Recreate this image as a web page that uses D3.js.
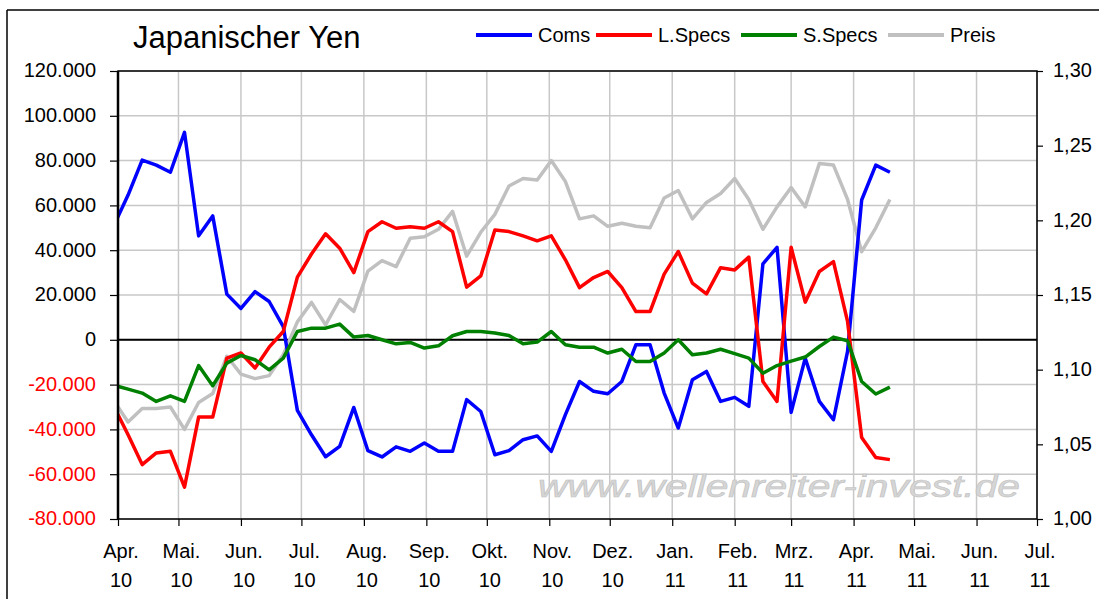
<!DOCTYPE html>
<html>
<head>
<meta charset="utf-8">
<script src="https://cdn.jsdelivr.net/npm/d3@7"></script>
<style>
  body { margin: 0; background: #fff; }
  svg { display: block; font-family: "Liberation Sans", Arial, sans-serif; }
</style>
</head>
<body>
<svg width="1099" height="599"></svg>
<script>
// weekly COT figures, first report week
const firstWeek = new Date(2010, 2, 30);
const coms = [51200, 64600, 80200, 78000, 74800, 92600, 46400, 55300, 20400, 14000,
  21500, 17100, 5900, -31500, -42400, -52200, -47600, -30200, -49500, -52300,
  -47800, -49800, -46100, -49800, -49800, -26700, -32000, -51300, -49500, -44600,
  -42900, -49800, -33400, -18600, -23000, -24100, -18600, -2200, -2200, -23800,
  -39400, -17800, -14100, -27500, -25700, -29700, 33900, 41300, -32400, -8200,
  -27500, -35700, -5200, 62400, 78000, 74800];
const lSpecs = [-29800, -42400, -55700, -50500, -49800, -65800, -34500, -34500, -8200, -5900,
  -12600, -3300, 3700, 28000, 38300, 47300, 40900, 30000, 48300, 52700,
  49800, 50500, 49800, 52700, 48300, 23500, 28500, 49000, 48300, 46400,
  44200, 46400, 35700, 23300, 27800, 30500, 23300, 12600, 12600, 29300,
  39400, 25300, 20500, 32200, 31200, 36900, -18600, -27500, 41300, 16800,
  30500, 34900, 8200, -43600, -52500, -53500];
const sSpecs = [-20300, -22000, -23800, -27500, -25000, -27500, -11500, -20500, -10400, -7000,
  -8900, -13400, -8200, 3700, 5200, 5200, 7000, 1200, 1900, 0,
  -1800, -1200, -3700, -2700, 1800, 3700, 3700, 3000, 1900, -1800,
  -1000, 3700, -2200, -3300, -3300, -5900, -4200, -9700, -9700, -5900,
  0, -6700, -5900, -4200, -6200, -8200, -14900, -11500, -9500, -7700,
  -3000, 1200, -400, -18600, -24200, -21100];
const preis = [1.079, 1.065, 1.074, 1.074, 1.075, 1.060, 1.078, 1.084, 1.109, 1.097,
  1.094, 1.096, 1.110, 1.132, 1.145, 1.130, 1.147, 1.139, 1.166, 1.173,
  1.169, 1.188, 1.189, 1.194, 1.206, 1.176, 1.192, 1.204, 1.223, 1.228,
  1.227, 1.240, 1.226, 1.201, 1.203, 1.196, 1.198, 1.196, 1.195, 1.215,
  1.220, 1.201, 1.212, 1.218, 1.228, 1.214, 1.194, 1.209, 1.222, 1.209,
  1.238, 1.237, 1.214, 1.179, 1.195, 1.214];

const seriesNames = ["Coms", "L.Specs", "S.Specs", "Preis"];
const seriesColors = ["#0000ff", "#ff0000", "#008000", "#c0c0c0"];
const monthNames = ["Jan.", "Feb.", "Mrz.", "Apr.", "Mai.", "Jun.", "Jul.", "Aug.", "Sep.", "Okt.", "Nov.", "Dez."];
const leftTicks = [120000, 100000, 80000, 60000, 40000, 20000, 0, -20000, -40000, -60000, -80000];
const rightTicks = [1.30, 1.25, 1.20, 1.15, 1.10, 1.05, 1.00];

const margin = { left: 118, right: 62, top: 71, bottom: 80 };
const svg = d3.select("svg");
const width = +svg.attr("width");
const height = +svg.attr("height");
const innerWidth = width - margin.left - margin.right;
const innerHeight = height - margin.top - margin.bottom;

const de = d3.formatLocale({ decimal: ",", thousands: ".", grouping: [3], currency: ["", " €"], minus: "-" });
const fmtLeft = de.format(",.0f");
const fmtRight = de.format(".2f");

const dates = coms.map((d, i) => d3.timeWeek.offset(firstWeek, i));

// scales in page coordinates
const xScale = d3.scaleTime()
  .domain([new Date(2010, 3, 1), new Date(2011, 6, 1)])
  .range([margin.left, margin.left + innerWidth]);
const yLeft = d3.scaleLinear().domain([-80000, 120000]).range([margin.top + innerHeight, margin.top]);
const yRight = d3.scaleLinear().domain([1.0, 1.3]).range([margin.top + innerHeight, margin.top]);
const months = d3.timeMonth.range(new Date(2010, 3, 1), new Date(2011, 6, 2));

svg.append("rect").attr("width", width).attr("height", height).attr("fill", "#fff");

// outer frame
svg.append("line").attr("x1", 7).attr("x2", 7).attr("y1", 10).attr("y2", height)
  .attr("stroke", "#000").attr("stroke-width", 1.5);
svg.append("line").attr("x1", 7).attr("x2", width).attr("y1", 10).attr("y2", 10)
  .attr("stroke", "#000").attr("stroke-width", 1.5);

// grid
svg.append("g").selectAll("line").data(leftTicks).join("line")
  .attr("x1", margin.left).attr("x2", margin.left + innerWidth)
  .attr("y1", d => yLeft(d)).attr("y2", d => yLeft(d))
  .attr("stroke", "#c8c8c8").attr("stroke-width", 1.5);
svg.append("g").selectAll("line").data(months).join("line")
  .attr("x1", d => xScale(d)).attr("x2", d => xScale(d))
  .attr("y1", margin.top).attr("y2", margin.top + innerHeight)
  .attr("stroke", "#c8c8c8").attr("stroke-width", 1.5);

// watermark
svg.append("text")
  .attr("x", 538).attr("y", 497)
  .attr("font-size", 31)
  .attr("font-style", "italic")
  .attr("textLength", 482)
  .attr("lengthAdjust", "spacingAndGlyphs")
  .attr("fill", "#d6d6d6")
  .attr("stroke", "#c2c2c2")
  .attr("stroke-width", 0.6)
  .text("www.wellenreiter-invest.de");

// zero line
svg.append("line")
  .attr("x1", margin.left).attr("x2", margin.left + innerWidth)
  .attr("y1", yLeft(0)).attr("y2", yLeft(0))
  .attr("stroke", "#000").attr("stroke-width", 2);

// series
svg.append("clipPath").attr("id", "plot-clip")
  .append("rect")
  .attr("x", margin.left).attr("y", margin.top)
  .attr("width", innerWidth).attr("height", innerHeight);
const plot = svg.append("g").attr("clip-path", "url(#plot-clip)");

const lineLeft = d3.line().x((d, i) => xScale(dates[i])).y(d => yLeft(d));
const lineRight = d3.line().x((d, i) => xScale(dates[i])).y(d => yRight(d));

plot.append("path").datum(preis).attr("d", lineRight)
  .attr("fill", "none").attr("stroke", seriesColors[3]).attr("stroke-width", 3.5)
  .attr("stroke-linejoin", "round");
[coms, lSpecs, sSpecs].forEach((s, k) => {
  plot.append("path").datum(s).attr("d", lineLeft)
    .attr("fill", "none").attr("stroke", seriesColors[k]).attr("stroke-width", 3.5)
    .attr("stroke-linejoin", "round");
});

// plot border
svg.append("rect")
  .attr("x", margin.left).attr("y", margin.top)
  .attr("width", innerWidth).attr("height", innerHeight)
  .attr("fill", "none").attr("stroke", "#000").attr("stroke-width", 1.5);
svg.append("line")
  .attr("x1", margin.left).attr("x2", margin.left)
  .attr("y1", margin.top).attr("y2", margin.top + innerHeight)
  .attr("stroke", "#000").attr("stroke-width", 2.5);

// axes: tick marks from d3 axes, labels placed by the same scales
const yAxisG = svg.append("g").attr("transform", `translate(${margin.left},0)`)
  .call(d3.axisLeft(yLeft).tickValues(leftTicks).tickSize(8).tickFormat(""));
const yAxisRG = svg.append("g").attr("transform", `translate(${margin.left + innerWidth},0)`)
  .call(d3.axisRight(yRight).tickValues(rightTicks).tickSize(6).tickFormat(""));
const xAxisG = svg.append("g").attr("transform", `translate(0,${margin.top + innerHeight})`)
  .call(d3.axisBottom(xScale).tickValues(months).tickSize(7).tickFormat(""));
[yAxisG, yAxisRG, xAxisG].forEach(a => {
  a.select(".domain").remove();
  a.selectAll(".tick text").remove();
  a.selectAll(".tick line").attr("stroke", "#000").attr("stroke-width", 1.2);
});

// left labels, right-aligned by measured width
svg.append("g").selectAll("text").data(leftTicks).join("text")
  .attr("y", d => yLeft(d))
  .attr("dy", "0.32em")
  .attr("font-size", 20)
  .attr("fill", d => d < 0 ? "#ff0000" : "#000")
  .text(d => fmtLeft(d))
  .attr("x", function () { return margin.left - 22 - this.getComputedTextLength(); });

svg.append("g").selectAll("text").data(rightTicks).join("text")
  .attr("x", margin.left + innerWidth + 16)
  .attr("y", d => yRight(d))
  .attr("dy", "0.32em")
  .attr("font-size", 20)
  .attr("fill", "#000")
  .text(d => fmtRight(d));

// month labels, centred by measured width
const monthRow = (yOff, label) => svg.append("g").selectAll("text").data(months).join("text")
  .attr("y", margin.top + innerHeight + yOff)
  .attr("font-size", 20)
  .attr("fill", "#000")
  .text(label)
  .attr("x", function (d) { return xScale(d) + 3 - this.getComputedTextLength() / 2; });
monthRow(39, d => monthNames[d.getMonth()]);
monthRow(68, d => d3.timeFormat("%y")(d));

// title
svg.append("text")
  .attr("x", 133).attr("y", 48)
  .attr("font-size", 31)
  .text("Japanischer Yen");

// legend
const legendX = [476, 596, 741, 888];
seriesNames.forEach((name, k) => {
  svg.append("line")
    .attr("x1", legendX[k]).attr("x2", legendX[k] + 56).attr("y1", 35).attr("y2", 35)
    .attr("stroke", seriesColors[k]).attr("stroke-width", 4);
  svg.append("text")
    .attr("x", legendX[k] + 62).attr("y", 42)
    .attr("font-size", 20)
    .text(name);
});
</script>
</body>
</html>
